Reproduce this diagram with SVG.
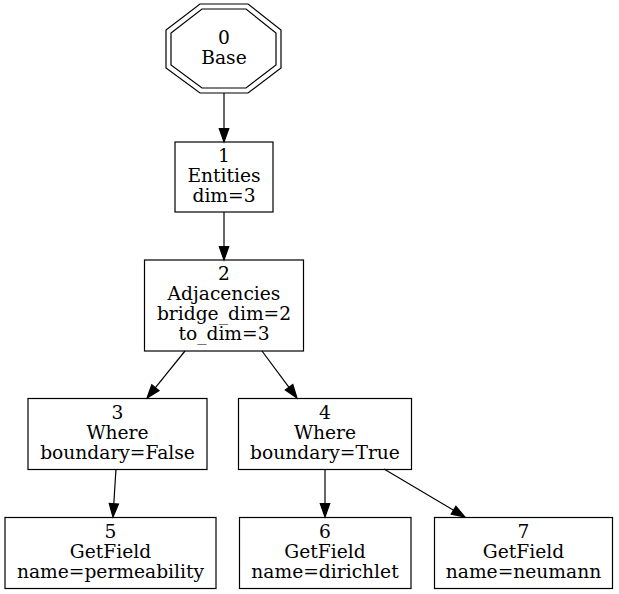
<svg xmlns="http://www.w3.org/2000/svg" width="619" height="594" viewBox="0 0 619 594">
<style>
.n{fill:none;stroke:#000;stroke-width:1.2}
.e{fill:none;stroke:#000;stroke-width:1.2}
.a{fill:#000;stroke:#000;stroke-width:1.2}
text{font-family:"DejaVu Serif",serif;font-size:18.67px;fill:#000;text-anchor:middle}
</style>
<rect width="619" height="594" fill="#fff"/>
<g id="edges">
<path class="e" d="M224,93 L224,128.7"/>
<polygon class="a" points="228.7,128.7 224,142 219.3,128.7"/>
<path class="e" d="M224,212 L224,246.7"/>
<polygon class="a" points="228.7,246.7 224,260 219.3,246.7"/>
<path class="e" d="M185,351 L155.4,387.7"/>
<polygon class="a" points="151.8,384.8 147,398 159.0,390.6"/>
<path class="e" d="M262,351 L289,387.3"/>
<polygon class="a" points="285.3,390.1 297,398 292.8,384.5"/>
<path class="e" d="M116,469 L113.8,503.7"/>
<polygon class="a" points="109.2,503.4 113,517 118.5,504"/>
<path class="e" d="M325,469 L325,503.7"/>
<polygon class="a" points="329.7,503.7 325,517 320.3,503.7"/>
<path class="e" d="M384,469 L453.6,510.2"/>
<polygon class="a" points="451.2,514.2 465,517 455.9,506.2"/>
</g>
<g id="node0">
<polygon class="n" points="200,4 248,4 281,30 281,68 248,93 200,93 166,68 166,30"/>
<polygon class="n" points="202,9 246,9 276,33 276,65 246,88 202,88 171,65 171,33"/>
<text x="224" y="43.5">0</text>
<text x="224" y="63.5">Base</text>
</g>
<g id="node1">
<rect class="n" x="175" y="142" width="98" height="70"/>
<text x="224" y="162">1</text>
<text x="224" y="182">Entities</text>
<text x="224" y="202">dim=3</text>
</g>
<g id="node2">
<rect class="n" x="144.5" y="260" width="159" height="91"/>
<text x="224" y="279.5">2</text>
<text x="224" y="299.5">Adjacencies</text>
<text x="224" y="319.5">bridge_dim=2</text>
<text x="224" y="339.5">to_dim=3</text>
</g>
<g id="node3">
<rect class="n" x="28" y="398.5" width="179" height="71"/>
<text x="117.5" y="419">3</text>
<text x="117.5" y="439">Where</text>
<text x="117.5" y="459">boundary=False</text>
</g>
<g id="node4">
<rect class="n" x="238.5" y="398.5" width="173" height="71"/>
<text x="325" y="419">4</text>
<text x="325" y="439">Where</text>
<text x="325" y="459">boundary=True</text>
</g>
<g id="node5">
<rect class="n" x="5" y="517.5" width="211" height="71"/>
<text x="110.5" y="538">5</text>
<text x="110.5" y="558">GetField</text>
<text x="110.5" y="578">name=permeability</text>
</g>
<g id="node6">
<rect class="n" x="239.5" y="517.5" width="171.5" height="71"/>
<text x="325" y="538">6</text>
<text x="325" y="558">GetField</text>
<text x="325" y="578">name=dirichlet</text>
</g>
<g id="node7">
<rect class="n" x="434.5" y="517.5" width="178" height="71"/>
<text x="523.5" y="538">7</text>
<text x="523.5" y="558">GetField</text>
<text x="523.5" y="578">name=neumann</text>
</g>
</svg>
